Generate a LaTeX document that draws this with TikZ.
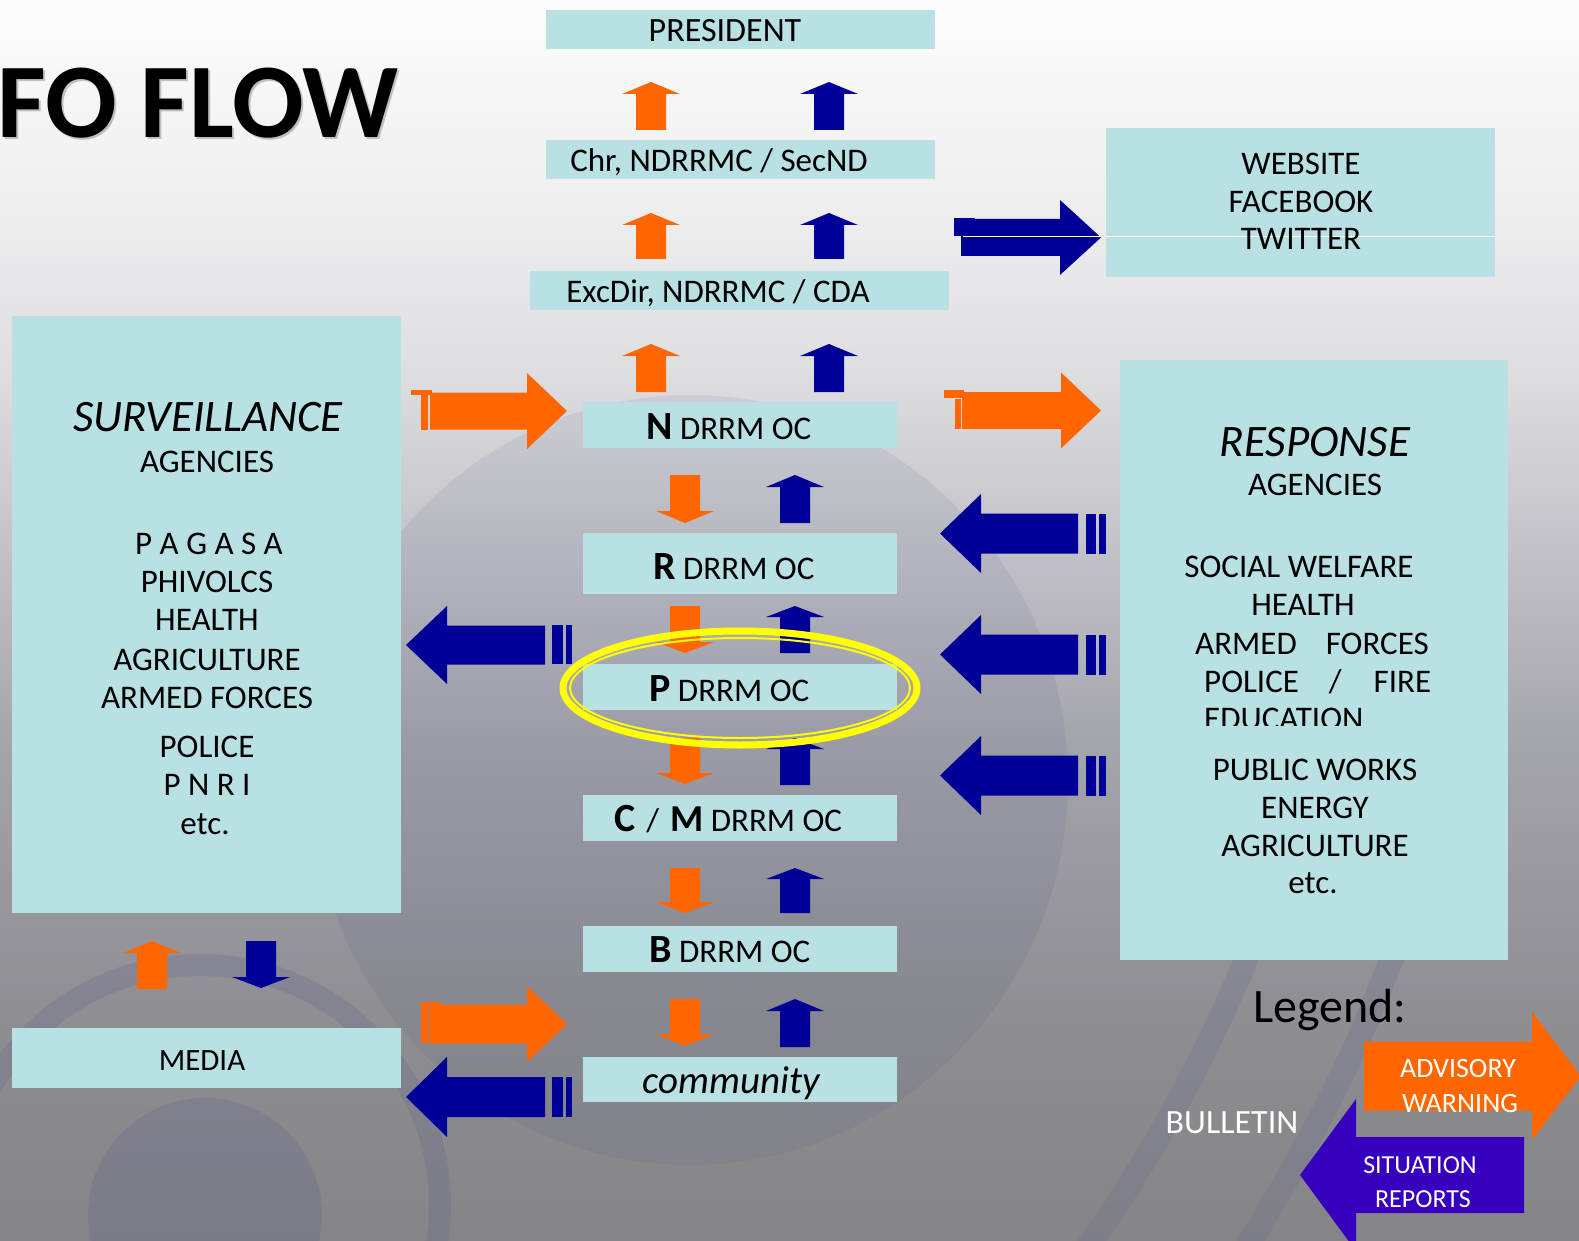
\documentclass[tikz,border=0pt]{standalone}
\usepackage{fontspec}
\setmainfont{Carlito}
\definecolor{boxc}{RGB}{185,224,227}
\definecolor{orA}{RGB}{255,102,0}
\definecolor{nvB}{RGB}{0,0,153}
\definecolor{vio}{RGB}{55,0,190}
\definecolor{yel}{RGB}{255,255,0}
\definecolor{bg0}{RGB}{133,133,135}
\definecolor{bg1}{RGB}{143,143,148}
\definecolor{bg2}{RGB}{164,164,171}
\definecolor{bg3}{RGB}{192,192,198}
\definecolor{bg4}{RGB}{222,222,225}
\definecolor{bg5}{RGB}{240,240,241}
\definecolor{bg6}{RGB}{252,252,252}
\definecolor{domec}{RGB}{70,70,120}
\definecolor{ringc}{RGB}{100,100,140}
\pgfdeclareverticalshading{bgshade}{100bp}{color(0bp)=(bg0); color(25bp)=(bg0); color(35bp)=(bg1); color(45bp)=(bg2); color(52.5bp)=(bg3); color(60bp)=(bg4); color(67.5bp)=(bg5); color(75bp)=(bg6); color(100bp)=(bg6)}
\newcommand{\fsz}[1]{\fontsize{#1}{#1}\selectfont}
% vertical block arrow: colour, centre x, tip y, head-base y, tail y, shaft half, head half
\newcommand{\blkv}[7]{\fill[#1] ({#2-#6},#5) -- ({#2-#6},#4) -- ({#2-#7},#4) -- (#2,#3) -- ({#2+#7},#4) -- ({#2+#6},#4) -- ({#2+#6},#5) -- cycle;}
% horizontal block arrow: colour, centre y, tip x, head-base x, tail x, shaft half, head half
\newcommand{\blkh}[7]{\fill[#1] (#5,{#2-#6}) -- (#4,{#2-#6}) -- (#4,{#2-#7}) -- (#3,#2) -- (#4,{#2+#7}) -- (#4,{#2+#6}) -- (#5,{#2+#6}) -- cycle;}
\begin{document}
\begin{tikzpicture}[x=1pt,y=-1pt,
  box/.style={fill=boxc, draw=none, inner sep=0, anchor=north west},
  lbl/.style={inner sep=0, anchor=base, text=black, font=\fsz{33}},
  wlbl/.style={inner sep=0, anchor=base, text=white}]
\useasboundingbox (0,0) rectangle (1579,1241);
\begin{scope}
\clip (0,0) rectangle (1579,1241);
\shade[shading=bgshade] (0,0) rectangle (1579,1241);
\fill[domec, opacity=0.09] (690,780) ellipse [x radius=378, y radius=385];
\draw[ringc, line width=22, opacity=0.25] (200,1205) circle [radius=240];
\fill[ringc, opacity=0.28] (205,1215) circle [radius=117];
\draw[ringc, line width=24, opacity=0.2] (1250,950) .. controls (1205,1060) and (1150,1160) .. (1085,1250);
\draw[ringc, line width=24, opacity=0.2] (1395,950) .. controls (1350,1070) and (1300,1160) .. (1245,1250);
\end{scope}

% title
\node[inner sep=0, anchor=base west, text=black!50, opacity=0.45, font=\bfseries\fsz{106}] (titsh) at (-1,140) {FO FLOW};
\node[inner sep=0, anchor=base west, text=black, font=\bfseries\fsz{106}] (title) at (-3,138) {FO FLOW};

% vertical arrows, top group
\blkv{orA}{651}{82}{94}{130}{15}{29}
\blkv{nvB}{829}{82}{94}{130}{15}{29}
\blkv{orA}{651}{213}{225}{259}{15}{29}
\blkv{nvB}{829}{213}{225}{259}{15}{29}
\blkv{orA}{651}{344}{356}{392}{15}{29}
\blkv{nvB}{829}{344}{356}{392}{15}{29}
% vertical arrows, lower group
\blkv{orA}{685}{523}{511}{475}{15}{29}
\blkv{nvB}{795}{475}{487}{523}{15}{29}
\blkv{orA}{685}{653}{642}{606}{15}{29}
\blkv{nvB}{795}{606}{617}{653}{15}{29}
\blkv{orA}{685}{784}{773}{738}{15}{29}
\blkv{nvB}{795}{738}{749}{785}{15}{29}
\blkv{orA}{685}{913}{902}{868}{15}{29}
\blkv{nvB}{795}{868}{879}{913}{15}{29}
\blkv{orA}{685}{1046}{1034}{999}{15}{29}
\blkv{nvB}{795}{999}{1011}{1047}{15}{29}
% media arrows
\blkv{orA}{152}{941}{953}{989}{15}{29}
\blkv{nvB}{261}{988}{977}{941}{15}{29}

% horizontal arrows
\blkh{orA}{411}{567}{527}{430}{18.5}{38}
\fill[orA] (421,391) rectangle (428,430);
\fill[orA] (411,390) rectangle (432,395);
\blkh{orA}{410.5}{1101}{1061}{962}{18.5}{38}
\fill[orA] (955,399) rectangle (961,429);
\fill[orA] (944,390) rectangle (964,398);
\blkh{orA}{1024}{567}{527}{429}{19.5}{38}
\fill[orA] (421,1003) rectangle (428,1043);
\fill[orA] (421,1002) rectangle (441,1005);
\blkh{nvB}{237.5}{1101}{1060}{961}{18.5}{37.5}
\fill[nvB] (954,218) rectangle (961,236);
\fill[nvB] (954,218) rectangle (975,221);
\blkh{nvB}{645}{406}{447}{545}{19.5}{39}
\fill[nvB] (552,625) rectangle (563,664);
\fill[nvB] (566,625) rectangle (572,664);
\blkh{nvB}{1097}{406}{447}{545}{20}{40}
\fill[nvB] (552,1077) rectangle (563,1117);
\fill[nvB] (566,1077) rectangle (572,1117);
\blkh{nvB}{533.5}{940}{981}{1078}{20}{39.5}
\fill[nvB] (1086,514) rectangle (1096,554);
\fill[nvB] (1099,514) rectangle (1106,554);
\blkh{nvB}{654.5}{940}{981}{1078}{20}{39.5}
\fill[nvB] (1086,635) rectangle (1096,675);
\fill[nvB] (1099,635) rectangle (1106,675);
\blkh{nvB}{775.5}{940}{981}{1078}{20}{39.5}
\fill[nvB] (1086,756) rectangle (1096,796);
\fill[nvB] (1099,756) rectangle (1106,796);

% boxes
\node[box, minimum width=389, minimum height=39] (pres) at (546,10) {};
\node[box, minimum width=389, minimum height=39] (chr) at (546,140) {};
\node[box, minimum width=419, minimum height=39] (exc) at (530,271) {};
\node[box, minimum width=314, minimum height=46] (ndr) at (583,402) {};
\node[box, minimum width=314, minimum height=61] (rdr) at (583,533) {};
\node[box, minimum width=314, minimum height=46] (pdr) at (583,664) {};
\node[box, minimum width=314, minimum height=46] (cdr) at (583,795) {};
\node[box, minimum width=314, minimum height=46] (bdr) at (583,926) {};
\node[box, minimum width=314, minimum height=45] (com) at (583,1057) {};
\node[box, minimum width=389, minimum height=149] (web) at (1106,128) {};
\node[box, minimum width=389, minimum height=597] (surv) at (12,316) {};
\node[box, minimum width=389, minimum height=60] (media) at (12,1028) {};
\node[box, minimum width=388, minimum height=600] (resp) at (1120,360) {};
\draw[white, line width=1] (963,237) -- (1101,237);
\draw[white, line width=1] (1106,237) -- (1495,237);

% central labels
\node[lbl, font=\fsz{34}] (prest) at (725,42) {PRESIDENT};
\node[lbl] (chrt) at (719,172) {Chr, NDRRMC / SecND};
\node[lbl] (exct) at (718,302) {ExcDir, NDRRMC / CDA};
\node[lbl, anchor=base west] (ndrt) at (646,439) {{\bfseries\fsz{40}N} DRRM OC};
\node[lbl, anchor=base west] (rdrt) at (653,579) {{\bfseries\fsz{40}R} DRRM OC};
\node[lbl, anchor=base west] (pdrt) at (649,701) {{\bfseries\fsz{40}P} DRRM OC};
\node[lbl, anchor=base west] (cdrt) at (614,831) {{\bfseries\fsz{40}C}\hspace{11pt}/\hspace{11pt}{\bfseries\fsz{38}M} DRRM OC};
\node[lbl, anchor=base west] (bdrt) at (649,962) {{\bfseries\fsz{40}B} DRRM OC};
\node[lbl, font=\itshape\fsz{39}] (comt) at (731,1093) {community};

% website
\node[lbl] (w1) at (1301,175) {WEBSITE};
\node[lbl] (w2) at (1301,213) {FACEBOOK};
\node[lbl] (w3) at (1301,250) {TWITTER};

% surveillance
\node[lbl, font=\itshape\fsz{45}] (s0) at (208,431) {SURVEILLANCE};
\node[lbl] (s1) at (207,472) {AGENCIES};
\node[lbl] (s2) at (209,554) {P A G A S A};
\node[lbl] (s3) at (207,592) {PHIVOLCS};
\node[lbl] (s4) at (207,630) {HEALTH};
\node[lbl] (s5) at (207,670) {AGRICULTURE};
\node[lbl] (s6) at (207,708) {ARMED FORCES};
\node[lbl] (s7) at (207,757) {POLICE};
\node[lbl] (s8) at (207,795) {P N R I};
\node[lbl] (s9) at (205,834) {etc.};

% media
\node[lbl, font=\fsz{31}] (mediat) at (202,1070) {MEDIA};

% response
\node[lbl, font=\itshape\fsz{45}] (r0) at (1315,456) {RESPONSE};
\node[lbl] (r1) at (1315,495) {AGENCIES};
\node[lbl] (r2) at (1299,577) {SOCIAL WELFARE};
\node[lbl] (r3) at (1303,615) {HEALTH};
\node[lbl, anchor=base west] (r4) at (1195,654) {ARMED\hspace{29pt}FORCES};
\node[lbl, anchor=base west] (r5) at (1204,692) {POLICE\hspace{30pt}/\hspace{32pt}FIRE};
\begin{scope}
\clip (1150,690) rectangle (1450,725);
\node[lbl, anchor=base west] (r6) at (1204,729) {EDUCATION};
\end{scope}
\node[lbl] (r7) at (1315,780) {PUBLIC WORKS};
\node[lbl] (r8) at (1315,818) {ENERGY};
\node[lbl] (r9) at (1315,856) {AGRICULTURE};
\node[lbl] (r10) at (1313,893) {etc.};

% highlight ellipse
\draw[yel, line width=7] (740,688) ellipse [x radius=177, y radius=57];
\draw[yel, line width=2] (740,688) ellipse [x radius=170, y radius=50];

% legend
\node[inner sep=0, anchor=base west, text=black, font=\fsz{48}] (leg) at (1253,1022) {Legend:};
\blkh{orA}{1076}{1581}{1532}{1364}{34.5}{64}
\blkh{vio}{1175}{1300}{1356}{1524}{38}{76}
\node[wlbl, font=\fsz{28}] (adv) at (1458,1077) {ADVISORY};
\node[wlbl, font=\fsz{28}] (warn) at (1460,1112) {WARNING};
\node[wlbl, font=\fsz{26}] (sit) at (1420,1173) {SITUATION};
\node[wlbl, font=\fsz{26}] (rep) at (1423,1207) {REPORTS};
\node[wlbl, font=\fsz{34}] (bull) at (1232,1133) {BULLETIN};
\end{tikzpicture}
\end{document}
